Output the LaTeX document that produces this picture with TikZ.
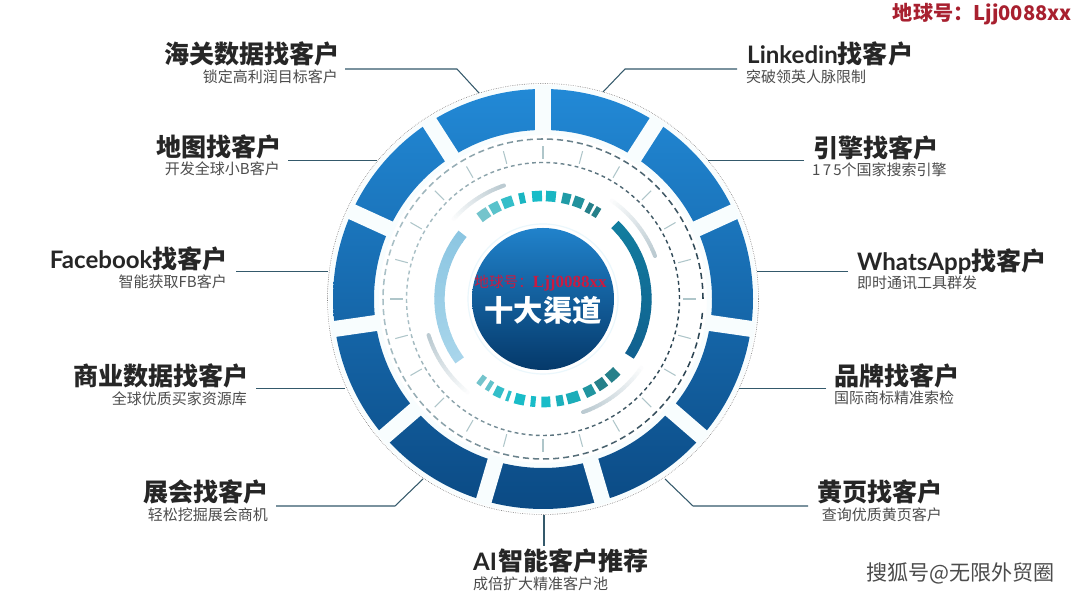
\documentclass[tikz,border=0pt]{standalone}
\usepackage{fontspec}
\setmainfont{Noto Sans CJK SC}
\newfontfamily\markfont{Liberation Serif}
\newfontfamily\latinhead[Scale=0.96]{Lato}

\definecolor{ringtop}{HTML}{2289D6}
\definecolor{ringmid}{HTML}{1871B5}
\definecolor{ringbot}{HTML}{0B4A84}
\definecolor{discbot}{HTML}{05396A}
\definecolor{gapcol}{HTML}{F8FDFE}
\definecolor{leadcol}{HTML}{34596B}
\definecolor{dashdark}{HTML}{2B4452}
\definecolor{dashlight}{HTML}{A9C0C6}
\definecolor{tickcol}{HTML}{AFC6CA}
\definecolor{fadecol}{HTML}{BCCBD2}
\definecolor{skyA}{HTML}{8CC6E2}
\definecolor{skyB}{HTML}{A9D6EB}
\definecolor{deepA}{HTML}{127D9F}
\definecolor{deepB}{HTML}{11608F}
\definecolor{tealA}{HTML}{74C4CC}
\definecolor{tealB}{HTML}{19BCC8}
\definecolor{tealC}{HTML}{26808A}
\definecolor{markred}{HTML}{CC1A40}
\definecolor{marktopred}{HTML}{A8202F}

\tikzset{
  labelhead/.style={inner sep=0pt, text height=20.4pt, text depth=2pt, text=black!85,
    font=\fontsize{21.4}{21.4}\selectfont\bfseries},
  labelsub/.style={inner sep=0pt, text height=12.5pt, text depth=1.5pt, text=black!70,
    font=\fontsize{12.8}{12.8}\selectfont},
  leadline/.style={draw=leadcol, line width=0.9pt},
}

\begin{document}
\begin{tikzpicture}[x=0.03cm, y=0.03cm]

  \fill[white] (0,0) rectangle (1080,597);
  \useasboundingbox (0,0) rectangle (1080,597);

  %%%%%%%%%%%%%%%%%%%%%%%%%%%%%%%%%%%%%%%%%%%%%%%%%
  \begin{scope}[shift={(543,298)}]
    % Pale band and outer dotted circle
    \fill[gapcol, even odd rule] (0,0) circle (214) (0,0) circle (164);
    \draw[black!55, line width=0.5pt, densely dotted] (0,0) circle (215.5);

    % Ring of eleven segments
    \shade[even odd rule, top color=ringtop, middle color=ringmid, bottom color=ringbot]
        (0,0) circle (210) (0,0) circle (169);
    \foreach \k in {0,...,10} {
      \pgfmathsetmacro\gapangle{90-360/11*\k}
      \draw[gapcol, line width=0.48cm] (\gapangle:165) -- (\gapangle:213);
    }

    % Dashed circle, dotted circle and ticks
    \foreach \a in {0,3.6,...,356.4} {
      \pgfmathtruncatemacro\mixval{50+50*cos(\a+10)}
      \draw[dashdark!\mixval!dashlight, line width=1.3pt]
          (\a:160) arc[start angle=\a, end angle=\a+2.2, radius=160];
    }
    \foreach \a in {0,3,...,357} {
      \pgfmathtruncatemacro\mixval{50+50*cos(\a+10)}
      \draw[dashdark!\mixval!dashlight, line width=1.2pt]
          (\a:136.5) arc[start angle=\a, end angle=\a+1.6, radius=136.5];
    }
    \foreach \a in {0,15,...,345} {
      \draw[tickcol, line width=0.9pt] (\a:140) -- (\a:153);
    }

    % Fading thin arcs
    \foreach \s/\e in {109/138, 21/55, 197.5/231, 289.5/325} {
      \foreach \k in {19,18,...,0} {
        \pgfmathsetmacro\from{\s+(\e-\s)*\k/20}
        \pgfmathsetmacro\upto{\s+(\e-\s)*(\k+1)/20}
        \pgfmathtruncatemacro\mixval{100-5*\k}
        \draw[fadecol!\mixval!white, line width=0.12cm, line cap=round]
            (\from:120) arc[start angle=\from, end angle=\upto, radius=120];
      }
    }

    % Two wide arcs
    \foreach \s/\e/\cola/\colb in {141/216/skyA/skyB, 46/-33/deepA/deepB} {
      \foreach \k in {0,...,19} {
        \pgfmathsetmacro\from{\s+(\e-\s)*\k/20}
        \pgfmathsetmacro\upto{\s+(\e-\s)*(\k+1.1)/20}
        \pgfmathtruncatemacro\mixval{100-5*\k}
        \draw[\cola!\mixval!\colb, line width=0.31cm]
            (\from:103.5) arc[start angle=\from, end angle=\upto, radius=103.5];
      }
    }

    % Small blocks, top and bottom
    \foreach \a/\w/\r/\c in {
        125/6/103/tealA, 117.7/5.5/103/tealA!70!tealB, 110/6/103/tealB!70!tealA,
        101.7/3.3/103/tealB!90!tealC, 93.3/5.5/103/tealB, 85.6/5.5/103/tealB!90!tealC,
        77/4.7/103/tealB!45!tealC, 70/5.5/103/tealB!30!tealC, 63/3/102/tealC, 58.5/3/102/tealC,
        233/3/102/tealA, 238.4/2.5/102/tealA!80!tealB, 244.5/4.5/103/tealA!30!tealB,
        250.4/1.8/103/tealB!80!tealA, 257/5.5/103/tealB, 264.5/2.8/103/tealB,
        271.6/5/103/tealB, 279.4/4/103/tealB!80!tealC, 287/7/103/tealB!75!tealC,
        296.7/5.5/103/tealB!35!tealC, 304.3/5.5/103/tealC, 312.5/6.5/103/tealC} {
      \draw[\c, line width=0.32cm]
          (\a-\w/2:\r) arc[start angle=\a-\w/2, end angle=\a+\w/2, radius=\r];
    }

    % Centre disc
    \draw[black!12!cyan!8!white, line width=1pt] (0,0) circle (75);
    \shade[top color=ringtop!95!black, middle color=ringmid!90!black, bottom color=discbot]
        (0,0) circle (71);
  \end{scope}

  \node[inner sep=0pt, text=white, font=\fontsize{25}{25}\selectfont\bfseries] (channels) at (543,287) {十大渠道};
  \node[inner sep=0pt, text=markred] (markmid) at (540.5,314)
      {\fontsize{12.5}{12.5}\selectfont 地球号：\markfont\bfseries\fontsize{14.5}{14.5}\selectfont Ljj0088xx};

  %%%%%%%%%%%%%%%%%%%%%%%%%%%%%%%%%%%%%%%%%%%%%%%%%
  % Left labels
  \node[labelhead, anchor=east] (customs) at (340,544) {海关数据找客户};
  \node[labelsub, anchor=east] (customssub) at (338,521) {锁定高利润目标客户};
  \node[labelhead, anchor=east] (maps) at (282,451) {地图找客户};
  \node[labelsub, anchor=east] (mapssub) at (280,429) {开发全球小B客户};
  \node[labelhead, anchor=east] (facebook) at (228,339) {{\latinhead Facebook}找客户};
  \node[labelsub, anchor=east] (facebooksub) at (227,316) {智能获取FB客户};
  \node[labelhead, anchor=east] (business) at (249,222) {商业数据找客户};
  \node[labelsub, anchor=east] (businesssub) at (247,199) {全球优质买家资源库};
  \node[labelhead, anchor=east] (expo) at (269,106) {展会找客户};
  \node[labelsub, anchor=east] (exposub) at (268,83) {轻松挖掘展会商机};

  % Bottom label
  \node[labelhead, anchor=west] (recommend) at (473,37) {{\latinhead AI\kern1pt}智能客户推荐};
  \node[labelsub, anchor=west] (recommendsub) at (473,14) {成倍扩大精准客户池};

  % Right labels
  \node[labelhead, anchor=west] (linkedin) at (747,544) {{\latinhead Linkedin}找客户};
  \node[labelsub, anchor=west] (linkedinsub) at (746,521) {突破领英人脉限制};
  \node[labelhead, anchor=west] (engine) at (813,450) {引擎找客户};
  \node[labelsub, anchor=west] (enginesub) at (812,428) {{\addfontfeature{LetterSpace=15}175}个国家搜索引擎};
  \node[labelhead, anchor=west] (whatsapp) at (857,337) {{\latinhead WhatsApp}找客户};
  \node[labelsub, anchor=west] (whatsappsub) at (857,315) {即时通讯工具群发};
  \node[labelhead, anchor=west] (brand) at (834,222) {品牌找客户};
  \node[labelsub, anchor=west] (brandsub) at (834,200) {国际商标精准索检};
  \node[labelhead, anchor=east] (yellow) at (943,106) {黄页找客户};
  \node[labelsub, anchor=east] (yellowsub) at (942,83) {查询优质黄页客户};

  %%%%%%%%%%%%%%%%%%%%%%%%%%%%%%%%%%%%%%%%%%%%%%%%%
  % Leader lines
  \coordinate (customsA) at (345,528);
  \coordinate (customsB) at (457,528);
  \coordinate (customsC) at (479,504);
  \draw[leadline] (customsA) -- (customsB) -- (customsC);
  \coordinate (mapsA) at (288,436.5);
  \coordinate (mapsB) at (377,436.5);
  \draw[leadline] (mapsA) -- (mapsB);
  \coordinate (facebookA) at (236,325.5);
  \coordinate (facebookB) at (328,325.5);
  \draw[leadline] (facebookA) -- (facebookB);
  \coordinate (businessA) at (256,208.5);
  \coordinate (businessB) at (345,208.5);
  \draw[leadline] (businessA) -- (businessB);
  \coordinate (expoA) at (276,91);
  \coordinate (expoB) at (395,91);
  \coordinate (expoC) at (423,118);
  \draw[leadline] (expoA) -- (expoB) -- (expoC);
  \coordinate (recommendA) at (544,51);
  \coordinate (recommendB) at (544,82);
  \draw[leadline] (recommendA) -- (recommendB);
  \coordinate (linkedinA) at (737,528);
  \coordinate (linkedinB) at (625,528);
  \coordinate (linkedinC) at (603,505);
  \draw[leadline] (linkedinA) -- (linkedinB) -- (linkedinC);
  \coordinate (engineA) at (804,436.5);
  \coordinate (engineB) at (708,436.5);
  \draw[leadline] (engineA) -- (engineB);
  \coordinate (whatsappA) at (848,325.5);
  \coordinate (whatsappB) at (757,325.5);
  \draw[leadline] (whatsappA) -- (whatsappB);
  \coordinate (brandA) at (826,208.5);
  \coordinate (brandB) at (739,208.5);
  \draw[leadline] (brandA) -- (brandB);
  \coordinate (yellowA) at (808,91);
  \coordinate (yellowB) at (693,91);
  \coordinate (yellowC) at (665,118);
  \draw[leadline] (yellowA) -- (yellowB) -- (yellowC);

  %%%%%%%%%%%%%%%%%%%%%%%%%%%%%%%%%%%%%%%%%%%%%%%%%
  % Corner marks
  \node[anchor=east, inner sep=0pt, text=marktopred,
      font=\fontsize{17.2}{17.2}\selectfont\bfseries] (marktop) at (1072,583) {地球号：Ljj0088xx};
  \node[anchor=east, inner sep=0pt, text=black!70,
      font=\fontsize{18}{18}\selectfont] (markbot) at (1055,24) {搜狐号@无限外贸圈};

\end{tikzpicture}
\end{document}
